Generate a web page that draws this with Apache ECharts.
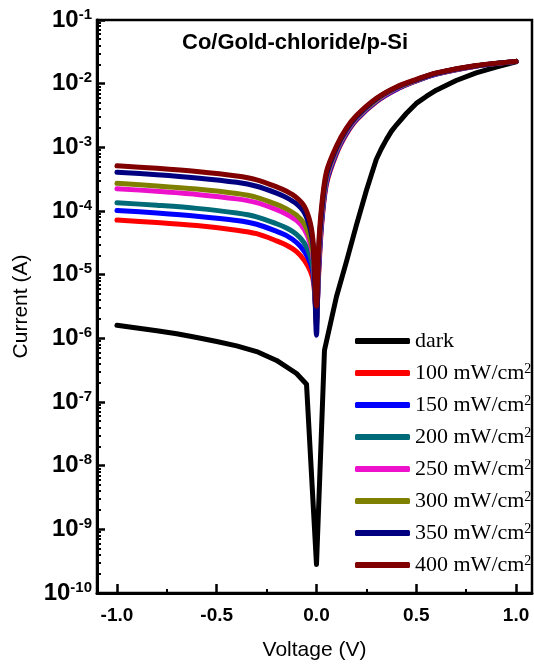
<!DOCTYPE html>
<html>
<head>
<meta charset="utf-8">
<script src="https://cdn.jsdelivr.net/npm/echarts@6/dist/echarts.min.js"></script>
<style>
html,body{margin:0;padding:0;background:#fff;}
#chart{width:534px;height:666px;}
</style>
</head>
<body>
<div id="chart"></div>
<script>
// ---- data ----
const seriesNames = ['dark', '100', '150', '200', '250', '300', '350', '400'];
const seriesColors = ['#000000', '#ff0000', '#0000ff', '#006b78', '#ee11cc', '#808000', '#000080', '#800000'];

const vDark = [-1, -0.9, -0.8, -0.7, -0.6, -0.5, -0.4, -0.3, -0.2, -0.1, -0.05, 0, 0.04, 0.1, 0.15, 0.2, 0.25, 0.275, 0.3, 0.325, 0.35, 0.375, 0.4, 0.45, 0.5, 0.55, 0.6, 0.7, 0.8, 0.9, 1.0];
const iDark = [1.6e-6, 1.45e-6, 1.32e-6, 1.18e-6, 1.03e-6, 8.9e-7, 7.6e-7, 6.2e-7, 4.5e-7, 2.8e-7, 1.9e-7, 2.8e-10, 6.5e-7, 4.5e-6, 1.6e-5, 6e-5, 2.1e-4, 3.7e-4, 6.5e-4, 9.5e-4, 1.32e-3, 1.78e-3, 2.24e-3, 3.4e-3, 4.9e-3, 6.3e-3, 7.9e-3, 1.12e-2, 1.48e-2, 1.82e-2, 2.2e-2];

const vLight = [-1, -0.8, -0.6, -0.4, -0.3, -0.2, -0.15, -0.1, -0.06, -0.03, -0.015, 0, 0.01, 0.025, 0.05, 0.1, 0.15, 0.2, 0.3, 0.4, 0.5, 0.6, 0.8, 1.0];
const i100 = [7.2e-5, 6.6e-5, 5.9e-5, 5.0e-5, 4.4e-5, 3.4e-5, 2.9e-5, 2.3e-5, 1.66e-5, 1.12e-5, 7.6e-6, 2.5e-6, 8.9e-6, 5.6e-5, 2.63e-4, 7.9e-4, 1.62e-3, 2.69e-3, 5.2e-3, 8.1e-3, 1.10e-2, 1.41e-2, 1.88e-2, 2.24e-2];
const i150 = [1.02e-4, 9.3e-5, 8.3e-5, 7.1e-5, 6.2e-5, 4.8e-5, 4.1e-5, 3.2e-5, 2.3e-5, 1.5e-5, 9.5e-6, 2.0e-6, 1.05e-5, 6.2e-5, 2.82e-4, 8.3e-4, 1.67e-3, 2.75e-3, 5.3e-3, 8.2e-3, 1.11e-2, 1.42e-2, 1.89e-2, 2.24e-2];
const i200 = [1.35e-4, 1.23e-4, 1.10e-4, 9.3e-5, 8.1e-5, 6.3e-5, 5.4e-5, 4.3e-5, 3.1e-5, 1.9e-5, 1.1e-5, 2.0e-6, 1.22e-5, 6.9e-5, 3.02e-4, 8.6e-4, 1.73e-3, 2.82e-3, 5.4e-3, 8.4e-3, 1.12e-2, 1.43e-2, 1.90e-2, 2.24e-2];
const i250 = [2.24e-4, 2.04e-4, 1.82e-4, 1.55e-4, 1.35e-4, 1.05e-4, 8.9e-5, 7.1e-5, 5.1e-5, 3.0e-5, 1.6e-5, 1.8e-6, 1.41e-5, 7.7e-5, 3.24e-4, 9.0e-4, 1.78e-3, 2.89e-3, 5.5e-3, 8.5e-3, 1.13e-2, 1.44e-2, 1.90e-2, 2.24e-2];
const i300 = [2.72e-4, 2.48e-4, 2.21e-4, 1.88e-4, 1.64e-4, 1.27e-4, 1.08e-4, 8.6e-5, 6.2e-5, 3.5e-5, 1.8e-5, 1.6e-6, 1.66e-5, 8.5e-5, 3.47e-4, 9.4e-4, 1.84e-3, 2.96e-3, 5.6e-3, 8.6e-3, 1.14e-2, 1.45e-2, 1.91e-2, 2.24e-2];
const i350 = [4.07e-4, 3.72e-4, 3.31e-4, 2.82e-4, 2.45e-4, 1.91e-4, 1.62e-4, 1.29e-4, 9.3e-5, 5.0e-5, 2.4e-5, 1.12e-6, 1.95e-5, 9.3e-5, 3.72e-4, 9.8e-4, 1.9e-3, 3.02e-3, 5.75e-3, 8.7e-3, 1.15e-2, 1.46e-2, 1.91e-2, 2.24e-2];
const i400 = [5.13e-4, 4.68e-4, 4.17e-4, 3.55e-4, 3.09e-4, 2.40e-4, 2.04e-4, 1.62e-4, 1.17e-4, 6.3e-5, 2.8e-5, 3.2e-6, 2.5e-5, 1.12e-4, 4.17e-4, 1.05e-3, 2.0e-3, 3.16e-3, 5.9e-3, 8.9e-3, 1.17e-2, 1.48e-2, 1.93e-2, 2.24e-2];

const xTicks = [-1.0, -0.5, 0.0, 0.5, 1.0];
const xMinorTicks = [-0.75, -0.25, 0.25, 0.75];
const yTicks = [1e-10, 1e-9, 1e-8, 1e-7, 1e-6, 1e-5, 1e-4, 1e-3, 1e-2, 1e-1];
const yMinorMultipliers = [2, 3, 4, 5, 6, 7, 8, 9];

// ---- build ----
const yMinorTicks = [];
for (let i = 0; i < yTicks.length - 1; i++) {
  yMinorMultipliers.forEach(m => yMinorTicks.push(m * yTicks[i]));
}
const pairs = (xs, ys) => xs.map((x, i) => [x, ys[i]]);
const lightValues = [i100, i150, i200, i250, i300, i350, i400];

const SANS = 'Liberation Sans';
const SERIF = 'Liberation Serif';

const series = [];
series.push({
  name: seriesNames[0], type: 'line', data: pairs(vDark, iDark),
  showSymbol: false, symbol: 'none', color: seriesColors[0],
  lineStyle: {width: 5, color: seriesColors[0], cap: 'round', join: 'round'},
  animation: false, z: 2
});
lightValues.forEach((vals, k) => {
  series.push({
    name: seriesNames[k + 1], type: 'line', data: pairs(vLight, vals),
    showSymbol: false, symbol: 'none', color: seriesColors[k + 1],
    smooth: 0.3,
    lineStyle: {width: 5, color: seriesColors[k + 1], cap: 'round', join: 'round'},
    animation: false, z: 3 + k
  });
});

const chart = echarts.init(document.getElementById('chart'), null, {renderer: 'canvas'});
chart.setOption({
  backgroundColor: '#ffffff',
  animation: false,
  title: {
    text: 'Co/Gold-chloride/p-Si', left: 182, top: 32, padding: 0,
    textStyle: {fontFamily: SANS, fontSize: 22, fontWeight: 'bold', color: '#000'}
  },
  legend: {
    orient: 'vertical', left: 355, top: 330, padding: 0,
    itemWidth: 55, itemHeight: 6, itemGap: 10,
    icon: 'roundRect',
    data: seriesNames,
    formatter: n => n === 'dark' ? n : n + ' mW/cm{s|2}',
    textStyle: {
      fontFamily: SERIF, fontSize: 22, color: '#000', lineHeight: 22, padding: [0, 0, 0, 0],
      rich: {
        s: {fontFamily: SERIF, fontSize: 14, color: '#000', verticalAlign: 'top', lineHeight: 14}
      }
    }
  },
  grid: {left: 97, right: 2, top: 20, bottom: 72, show: true, borderColor: '#000', borderWidth: 2.5, containLabel: false},
  xAxis: [{
    type: 'value', min: -1.1, max: 1.08,
    name: 'Voltage (V)', nameLocation: 'middle', nameGap: 47,
    nameTextStyle: {fontFamily: SANS, fontSize: 21, color: '#000'},
    axisLine: {show: true, onZero: false, lineStyle: {color: '#000', width: 3}},
    axisTick: {show: true, inside: true, length: 9, lineStyle: {color: '#000', width: 2.5}, customValues: xTicks},
    axisLabel: {show: true, customValues: xTicks, margin: 13, fontFamily: SANS, fontSize: 19, fontWeight: 'bold', color: '#000',
      formatter: v => v.toFixed(1)},
    splitLine: {show: false}
  }, {
    type: 'value', min: -1.1, max: 1.08, position: 'bottom',
    axisLine: {show: false, onZero: false},
    axisTick: {show: true, inside: true, length: 4, lineStyle: {color: '#000', width: 2}, customValues: xMinorTicks},
    axisLabel: {show: false},
    splitLine: {show: false}
  }],
  yAxis: [{
    type: 'log', logBase: 10, min: 1e-10, max: 0.1,
    name: 'Current (A)', nameLocation: 'middle', nameGap: 65,
    nameTextStyle: {fontFamily: SANS, fontSize: 21, color: '#000'},
    axisLine: {show: true, onZero: false, lineStyle: {color: '#000', width: 3}},
    axisTick: {show: true, inside: true, length: 8, lineStyle: {color: '#000', width: 2.5}, customValues: yTicks},
    axisLabel: {
      show: true, customValues: yTicks, margin: 5,
      formatter: v => '{b|10}{s|' + Math.round(Math.log10(v)) + '}',
      rich: {
        b: {fontFamily: SANS, fontSize: 24, fontWeight: 'bold', color: '#000', lineHeight: 26},
        s: {fontFamily: SANS, fontSize: 15, fontWeight: 'bold', color: '#000', verticalAlign: 'top', lineHeight: 15}
      }
    },
    splitLine: {show: false}
  }, {
    type: 'log', logBase: 10, min: 1e-10, max: 0.1, position: 'left',
    axisLine: {show: false, onZero: false},
    axisTick: {show: true, inside: true, length: 4, lineStyle: {color: '#000', width: 2}, customValues: yMinorTicks},
    axisLabel: {show: false},
    splitLine: {show: false}
  }],
  series: series
});
</script>
</body>
</html>
